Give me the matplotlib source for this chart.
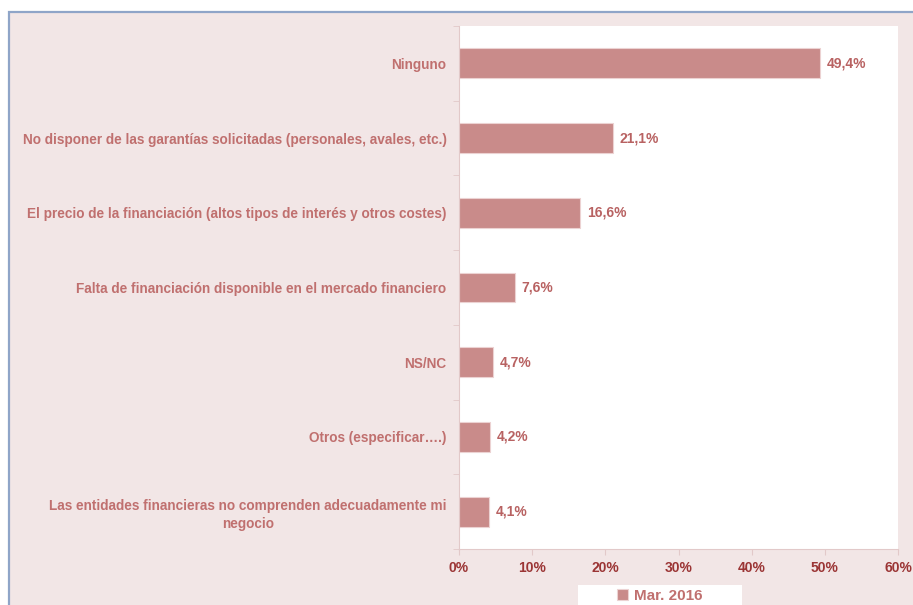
import matplotlib.pyplot as plt
from matplotlib.patches import Rectangle

categories = [
    "Ninguno",
    "No disponer de las garantías solicitadas (personales, avales, etc.)",
    "El precio de la financiación (altos tipos de interés y otros costes)",
    "Falta de financiación disponible en el mercado financiero",
    "NS/NC",
    "Otros (especificar….)",
    "Las entidades financieras no comprenden adecuadamente mi\nnegocio",
]
values = [49.4, 21.1, 16.6, 7.6, 4.7, 4.2, 4.1]
value_labels = ["49,4%", "21,1%", "16,6%", "7,6%", "4,7%", "4,2%", "4,1%"]
xticks = [0, 10, 20, 30, 40, 50, 60]
series_name = "Mar. 2016"

bar_color = "#c98b8a"
cat_color = "#c0706f"
val_color = "#b86262"
tick_color = "#9b3535"
bg_color = "#f2e6e6"
axis_color = "#e2c9c9"

plt.rcParams['font.family'] = ['Liberation Sans', 'DejaVu Sans']
plt.rcParams['font.weight'] = 'bold'

fig = plt.figure(figsize=(9.13, 6.05), dpi=100, facecolor="white")
W, H = 913, 605

# pink panel with blue border on left/top
fig.patches.append(Rectangle((8.5 / W, -0.05), 1.1, 1 - 12 / H + 0.05,
                             transform=fig.transFigure, facecolor=bg_color,
                             edgecolor="#8fa5c8", linewidth=1.6, zorder=-5))
# white box behind the legend
fig.patches.append(Rectangle((578 / W, 0), (742 - 578) / W, (605 - 585) / H,
                             transform=fig.transFigure, facecolor="white",
                             edgecolor="none", zorder=-4))

ax = fig.add_axes([459 / W, 1 - 549 / H, (898 - 459) / W, (549 - 26) / H])
ax.set_facecolor("white")

y = list(range(len(categories)))
ax.barh(y, values, height=0.4, color=bar_color, edgecolor="#ecd2d2", linewidth=0.8,
        label=series_name, zorder=2)
for yi, v, lab in zip(y, values, value_labels):
    ax.text(v + 0.9, yi, lab, va="center", ha="left", color=val_color,
            fontsize=10, fontweight="bold")

ax.set_ylim(len(categories) - 0.5, -0.5)
ax.set_xlim(0, 60)
ax.set_xticks(xticks)
ax.set_xticklabels([f"{t}%" for t in xticks], color=tick_color, fontsize=10,
                   fontweight="bold")

ax.set_yticks(y)
ax.set_yticklabels(categories, color=cat_color, fontsize=9.8, fontweight="bold",
                   multialignment="center", linespacing=1.35)
ax.tick_params(axis="y", length=0, pad=9)
ax.set_yticks([i + 0.5 for i in range(-1, len(categories))], minor=True)
ax.tick_params(axis="y", which="minor", length=4, color=axis_color, left=True)
ax.tick_params(axis="x", length=4, color=axis_color, pad=5)

for side in ["top", "right"]:
    ax.spines[side].set_visible(False)
ax.spines["left"].set_color(axis_color)
ax.spines["bottom"].set_color(axis_color)

leg = ax.legend(loc="center", bbox_to_anchor=(660 / W, 1 - 596 / H),
                bbox_transform=fig.transFigure, frameon=False,
                handlelength=0.7, handleheight=0.7, handletextpad=0.4,
                borderpad=0.3, prop={"size": 11, "weight": "bold"})
for t in leg.get_texts():
    t.set_color(cat_color)

fig.savefig("out.png", dpi=100, facecolor=fig.get_facecolor())
